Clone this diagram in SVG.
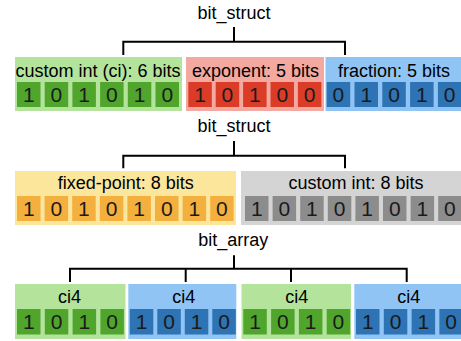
<svg xmlns="http://www.w3.org/2000/svg" width="461" height="341" viewBox="0 0 461 341">
<style>
text{font-family:"Liberation Sans",Arial,sans-serif;fill:#000}
.t{font-size:18px;text-anchor:middle}
.d{font-size:21px;text-anchor:middle;fill:#1a1a1a}
.gb{fill:#b4e39c}.gc{fill:#50a52d}
.rb{fill:#f3a8a0}.rc{fill:#da3c28}
.bb{fill:#8fc4f5}.bc{fill:#2e73b4}
.yb{fill:#fbe69c}.yc{fill:#f4b03f}
.kb{fill:#d4d4d4}.kc{fill:#8c8c8c}
.conn{fill:none;stroke:#000;stroke-width:2}
</style>
<rect width="461" height="341" fill="#fff"/>
<g id="connectors">
<path class="conn" d="M123.3 55V41.7H345V55M234 27V41.7"/>
<path class="conn" d="M123.3 168.3V155.7H345V168.3M234 141V155.7"/>
<path class="conn" d="M70 282V268.7H406.7V282M185.7 268.7V282M291 268.7V282M234 255.3V268.7"/>
</g>
<g id="title-struct-1"><text class="t" x="234" y="19">bit_struct</text></g>
<g id="title-struct-2"><text class="t" x="234" y="131.7">bit_struct</text></g>
<g id="title-array"><text class="t" x="233.3" y="245.5">bit_array</text></g>

<g id="field-ci6">
<rect class="gb" x="15" y="57" width="167" height="54"/>
<text class="t" x="98" y="77">custom int (ci): 6 bits</text>
<rect class="gc" x="17" y="82" width="23.5" height="25"/>
<rect class="gc" x="44.7" y="82" width="23.5" height="25"/>
<rect class="gc" x="72.4" y="82" width="23.5" height="25"/>
<rect class="gc" x="100.1" y="82" width="23.5" height="25"/>
<rect class="gc" x="127.8" y="82" width="23.5" height="25"/>
<rect class="gc" x="155.5" y="82" width="23.5" height="25"/>
<text class="d" x="28.75" y="101.7">1</text>
<text class="d" x="56.45" y="101.7">0</text>
<text class="d" x="84.15" y="101.7">1</text>
<text class="d" x="111.85" y="101.7">0</text>
<text class="d" x="139.55" y="101.7">1</text>
<text class="d" x="167.25" y="101.7">0</text>
</g>

<g id="field-exponent">
<rect class="rb" x="186" y="57" width="138" height="54"/>
<text class="t" x="255.5" y="77">exponent: 5 bits</text>
<rect class="rc" x="188.3" y="82" width="23.5" height="25"/>
<rect class="rc" x="215.7" y="82" width="23.5" height="25"/>
<rect class="rc" x="243.1" y="82" width="23.5" height="25"/>
<rect class="rc" x="270.5" y="82" width="23.5" height="25"/>
<rect class="rc" x="297.9" y="82" width="23.5" height="25"/>
<text class="d" x="200.05" y="101.7">1</text>
<text class="d" x="227.45" y="101.7">0</text>
<text class="d" x="254.85" y="101.7">1</text>
<text class="d" x="282.25" y="101.7">0</text>
<text class="d" x="309.65" y="101.7">0</text>
</g>

<g id="field-fraction">
<rect class="bb" x="325.5" y="57" width="140" height="54"/>
<text class="t" x="394" y="77">fraction: 5 bits</text>
<rect class="bc" x="326.7" y="82" width="23.5" height="25"/>
<rect class="bc" x="354.5" y="82" width="23.5" height="25"/>
<rect class="bc" x="382.3" y="82" width="23.5" height="25"/>
<rect class="bc" x="410.1" y="82" width="23.5" height="25"/>
<rect class="bc" x="437.9" y="82" width="23.5" height="25"/>
<text class="d" x="338.45" y="101.7">0</text>
<text class="d" x="366.25" y="101.7">1</text>
<text class="d" x="394.05" y="101.7">0</text>
<text class="d" x="421.85" y="101.7">1</text>
<text class="d" x="449.65" y="101.7">0</text>
</g>

<g id="field-fixed">
<rect class="yb" x="15" y="171" width="221" height="54"/>
<text class="t" x="125.8" y="189">fixed-point: 8 bits</text>
<rect class="yc" x="17" y="196" width="23.5" height="25"/>
<rect class="yc" x="44.6" y="196" width="23.5" height="25"/>
<rect class="yc" x="72.2" y="196" width="23.5" height="25"/>
<rect class="yc" x="99.8" y="196" width="23.5" height="25"/>
<rect class="yc" x="127.4" y="196" width="23.5" height="25"/>
<rect class="yc" x="155" y="196" width="23.5" height="25"/>
<rect class="yc" x="182.6" y="196" width="23.5" height="25"/>
<rect class="yc" x="210.2" y="196" width="23.5" height="25"/>
<text class="d" x="28.75" y="215.7">1</text>
<text class="d" x="56.35" y="215.7">0</text>
<text class="d" x="83.95" y="215.7">1</text>
<text class="d" x="111.55" y="215.7">0</text>
<text class="d" x="139.15" y="215.7">1</text>
<text class="d" x="166.75" y="215.7">0</text>
<text class="d" x="194.35" y="215.7">1</text>
<text class="d" x="221.95" y="215.7">0</text>
</g>

<g id="field-ci8">
<rect class="kb" x="241" y="171" width="225" height="54"/>
<text class="t" x="356" y="189">custom int: 8 bits</text>
<rect class="kc" x="245" y="196" width="23.5" height="25"/>
<rect class="kc" x="272.6" y="196" width="23.5" height="25"/>
<rect class="kc" x="300.2" y="196" width="23.5" height="25"/>
<rect class="kc" x="327.8" y="196" width="23.5" height="25"/>
<rect class="kc" x="355.4" y="196" width="23.5" height="25"/>
<rect class="kc" x="383" y="196" width="23.5" height="25"/>
<rect class="kc" x="410.6" y="196" width="23.5" height="25"/>
<rect class="kc" x="438.2" y="196" width="23.5" height="25"/>
<text class="d" x="256.75" y="215.7">1</text>
<text class="d" x="284.35" y="215.7">0</text>
<text class="d" x="311.95" y="215.7">1</text>
<text class="d" x="339.55" y="215.7">0</text>
<text class="d" x="367.15" y="215.7">1</text>
<text class="d" x="394.75" y="215.7">0</text>
<text class="d" x="422.35" y="215.7">1</text>
<text class="d" x="449.95" y="215.7">0</text>
</g>

<g id="elem-ci4-1">
<rect class="gb" x="15" y="284" width="110.5" height="55"/>
<text class="t" x="69.5" y="303">ci4</text>
<rect class="gc" x="17" y="309" width="23.5" height="25.5"/>
<rect class="gc" x="44.8" y="309" width="23.5" height="25.5"/>
<rect class="gc" x="72.6" y="309" width="23.5" height="25.5"/>
<rect class="gc" x="100.4" y="309" width="23.5" height="25.5"/>
<text class="d" x="28.75" y="329">1</text>
<text class="d" x="56.55" y="329">0</text>
<text class="d" x="84.35" y="329">1</text>
<text class="d" x="112.15" y="329">0</text>
</g>

<g id="elem-ci4-2">
<rect class="bb" x="128.3" y="284" width="108" height="55"/>
<text class="t" x="183.7" y="303">ci4</text>
<rect class="bc" x="129.8" y="309" width="23.5" height="25.5"/>
<rect class="bc" x="157.3" y="309" width="23.5" height="25.5"/>
<rect class="bc" x="184.8" y="309" width="23.5" height="25.5"/>
<rect class="bc" x="212.3" y="309" width="23.5" height="25.5"/>
<text class="d" x="141.55" y="329">1</text>
<text class="d" x="169.05" y="329">0</text>
<text class="d" x="196.55" y="329">1</text>
<text class="d" x="224.05" y="329">0</text>
</g>

<g id="elem-ci4-3">
<rect class="gb" x="241.5" y="284" width="109.5" height="55"/>
<text class="t" x="296.7" y="303">ci4</text>
<rect class="gc" x="243.3" y="309" width="23.5" height="25.5"/>
<rect class="gc" x="271.1" y="309" width="23.5" height="25.5"/>
<rect class="gc" x="298.9" y="309" width="23.5" height="25.5"/>
<rect class="gc" x="326.7" y="309" width="23.5" height="25.5"/>
<text class="d" x="255.05" y="329">1</text>
<text class="d" x="282.85" y="329">0</text>
<text class="d" x="310.65" y="329">1</text>
<text class="d" x="338.45" y="329">0</text>
</g>

<g id="elem-ci4-4">
<rect class="bb" x="354.3" y="284" width="110" height="55"/>
<text class="t" x="408.8" y="303">ci4</text>
<rect class="bc" x="356" y="309" width="23.5" height="25.5"/>
<rect class="bc" x="383.8" y="309" width="23.5" height="25.5"/>
<rect class="bc" x="411.6" y="309" width="23.5" height="25.5"/>
<rect class="bc" x="439.4" y="309" width="23.5" height="25.5"/>
<text class="d" x="367.75" y="329">1</text>
<text class="d" x="395.55" y="329">0</text>
<text class="d" x="423.35" y="329">1</text>
<text class="d" x="451.15" y="329">0</text>
</g>
</svg>
